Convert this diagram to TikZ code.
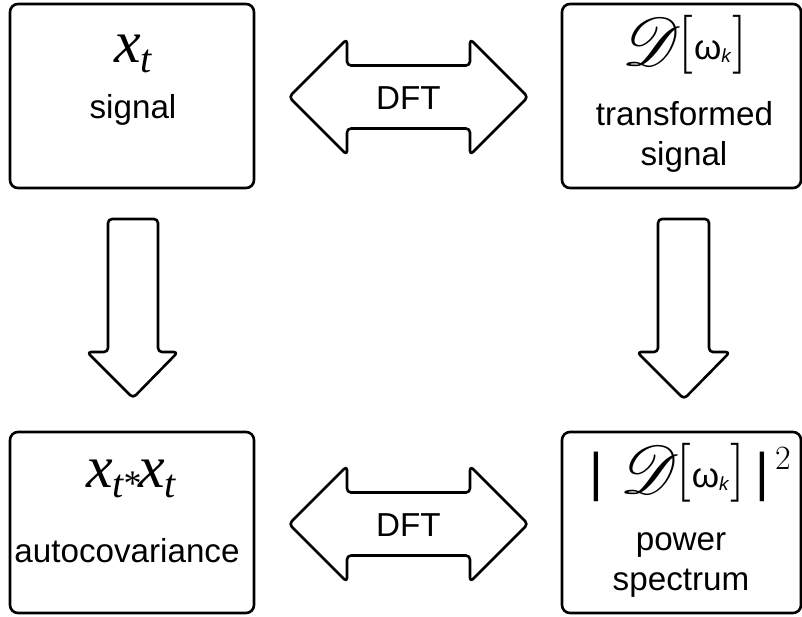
\documentclass[tikz,border=0pt]{standalone}
\usepackage{fontspec}
\usepackage{graphicx}
\usepackage{mathrsfs}
\setmainfont{Liberation Sans}
\newfontfamily\serf{Liberation Serif}
\newfontfamily\lmr{Latin Modern Roman}
\newcommand{\lbl}{\fontsize{33.2}{40}\selectfont}
\newcommand{\bigx}{{\serf\itshape\fontsize{60}{60}\selectfont x}}
\newcommand{\subt}{\raisebox{-10pt}{\serf\itshape\fontsize{40}{40}\selectfont t}}
\newcommand{\dwk}{\raisebox{-6pt}{\fontsize{10}{10}\selectfont\scalebox{6.8}{$\mathscr{D}$}}%
  \kern-3pt{\lmr\fontsize{59}{59}\selectfont [}%
  \kern1pt{\fontsize{35}{35}\selectfont ω}%
  \raisebox{-3pt}{\itshape\fontsize{19}{19}\selectfont k}%
  \kern2pt{\lmr\fontsize{59}{59}\selectfont ]}}
\begin{document}
\begin{tikzpicture}[x=1pt,y=-1pt,
  box/.style={draw,line width=2.6pt,rounded corners=8pt},
  blk/.style={draw,line width=2.6pt,rounded corners=4pt,line join=round},
  txt/.style={inner sep=0pt,anchor=base}]
\useasboundingbox (0,0) rectangle (802,616);
% boxes
\draw[box] (10,4) rectangle (254,188);
\draw[box] (562,4) rectangle (801,188);
\draw[box] (10,432) rectangle (254,613);
\draw[box] (562,432) rectangle (801,613);
% texts
\node[txt] (sigm) at (133,62) {\bigx\kern-1pt\subt};
\node[txt] (sigl) at (133,118) {\lbl signal};
\node[txt] (tram) at (685,59) {\dwk};
\node[txt] (tral1) at (684.5,125) {\lbl transformed};
\node[txt] (tral2) at (684,165) {\lbl signal};
\node[txt] (autm) at (131,487) {\bigx\kern-1pt\subt\raisebox{-8pt}{\serf\fontsize{36}{36}\selectfont*}\kern-3pt\bigx\kern-1pt\subt};
\node[txt] (autl) at (127,562) {\lbl autocovariance};
\node[txt] (powm) at (690,487) {{\fontsize{53}{53}\selectfont\raisebox{-3pt}{|}}\kern17pt\dwk\kern10pt{\fontsize{53}{53}\selectfont\raisebox{-3pt}{|}}\kern6pt\raisebox{18pt}{\lmr\fontsize{34}{34}\selectfont 2}};
\node[txt] (powl1) at (681,550) {\lbl power};
\node[txt] (powl2) at (681,590) {\lbl spectrum};
% double arrows
\draw[blk] (289,97) -- (347,39) -- (347,65.5) -- (470,65.5) -- (470,39) -- (528,97)
  -- (470,155) -- (470,128.5) -- (347,128.5) -- (347,155) -- cycle;
\node[txt] (dft1) at (408.5,109) {\lbl DFT};
\draw[blk] (289,524) -- (347,466) -- (347,492.5) -- (470,492.5) -- (470,466) -- (528,524)
  -- (470,582) -- (470,555.5) -- (347,555.5) -- (347,582) -- cycle;
\node[txt] (dft2) at (408.5,536) {\lbl DFT};
% down arrows
\draw[blk] (108,219) -- (158,219) -- (158,352) -- (178,352) -- (133,398) -- (87,352)
  -- (108,352) -- cycle;
\draw[blk] (658,219) -- (709,219) -- (709,352) -- (730,352) -- (684,399) -- (637,352)
  -- (658,352) -- cycle;
\end{tikzpicture}
\end{document}
